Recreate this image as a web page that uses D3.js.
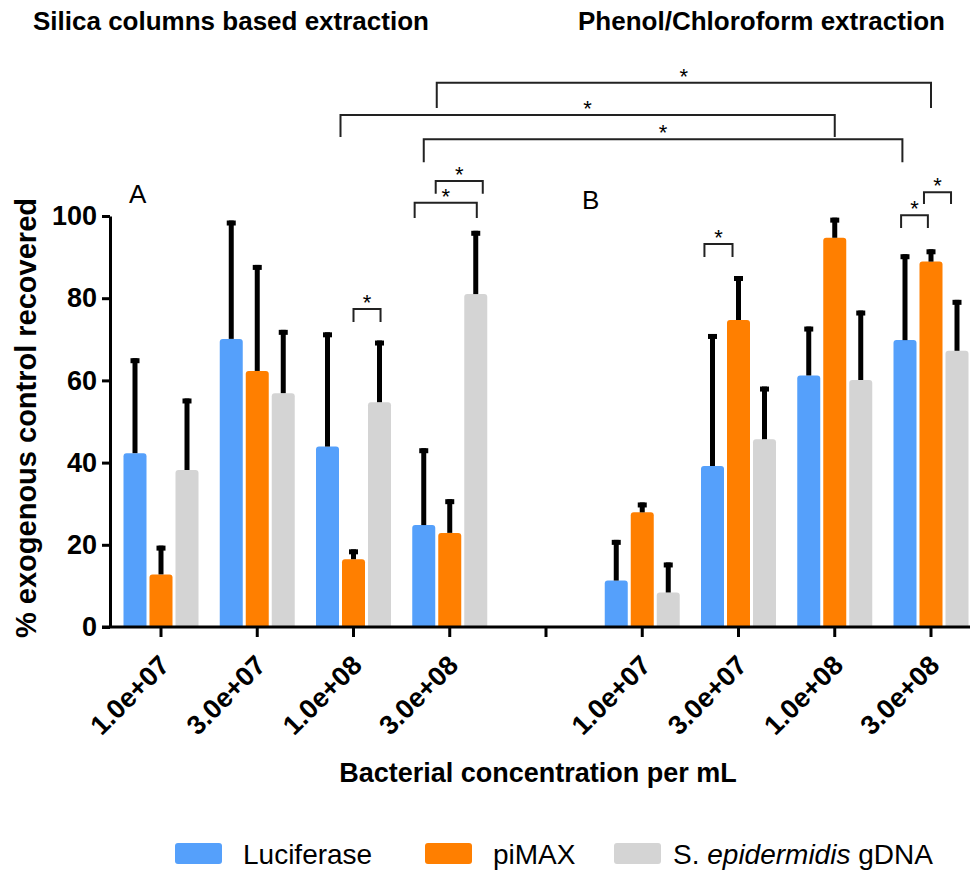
<!DOCTYPE html>
<html>
<head>
<meta charset="utf-8">
<script src="https://cdn.jsdelivr.net/npm/d3@7/dist/d3.min.js"></script>
<style>
  html, body { margin: 0; padding: 0; background: #fff; }
  svg { display: block; font-family: "Liberation Sans", Arial, sans-serif; }
</style>
</head>
<body>
<svg id="chart" width="970" height="872"></svg>
<script>
// ---------------- data ----------------
const categoryKeys = ["A-1e7", "A-3e7", "A-1e8", "A-3e8", "gap", "B-1e7", "B-3e7", "B-1e8", "B-3e8"];
const tickLabels   = ["1.0e+07", "3.0e+07", "1.0e+08", "3.0e+08", "", "1.0e+07", "3.0e+07", "1.0e+08", "3.0e+08"];
const seriesNames  = ["Luciferase", "piMAX", "S. epidermidis gDNA"];
const seriesColors = ["#55a0fb", "#ff7f00", "#d4d4d4"];

const luciferase    = [42.3, 70.1, 43.9, 24.8, null, 11.3, 39.2, 61.2, 69.8];
const luciferaseErr = [23.1, 28.8, 27.8, 18.7, null,  9.9, 32.1, 11.9, 20.9];
const pimax         = [12.8, 62.3, 16.5, 22.9, null, 27.9, 74.7, 94.7, 88.9];
const pimaxErr      = [ 7.0, 25.8,  2.4,  8.2, null,  2.4, 10.7,  4.9,  3.0];
const gdna          = [38.2, 56.9, 54.7, 81.0, null,  8.4, 45.7, 60.1, 67.2];
const gdnaErr       = [17.4, 15.4, 15.0, 15.4, null,  7.3, 12.8, 16.9, 12.4];

const yTicks = [0, 20, 40, 60, 80, 100];

// significance brackets: from category / offset (in bar steps), to category / offset, level and leg end (data units)
const brackets = [
  { from: "A-3e8", fromOff: -0.5,  to: "B-3e8", toOff: 0.0,   level: 132.4, leg: 126.3 },
  { from: "A-1e8", fromOff: -0.5,  to: "B-1e8", toOff: 0.0,   level: 124.6, leg: 119.2 },
  { from: "A-3e8", fromOff: -1.0,  to: "B-3e8", toOff: -1.1,  level: 118.7, leg: 113.1 },
  { from: "A-1e8", fromOff: 0.0,   to: "A-1e8", toOff: 1.04,  level: 77.4,  leg: 74.2 },
  { from: "A-3e8", fromOff: -1.35, to: "A-3e8", toOff: 1.04,  level: 103.2, leg: 99.5 },
  { from: "A-3e8", fromOff: -0.54, to: "A-3e8", toOff: 1.27,  level: 108.5, leg: 105.4 },
  { from: "B-3e7", fromOff: -1.31, to: "B-3e7", toOff: -0.23, level: 93.2,  leg: 90.0 },
  { from: "B-3e8", fromOff: -1.15, to: "B-3e8", toOff: -0.12, level: 100.2, leg: 97.1 },
  { from: "B-3e8", fromOff: -0.27, to: "B-3e8", toOff: 0.77,  level: 105.8, leg: 102.9 }
];

// ---------------- layout ----------------
const svg = d3.select("#chart");
const step = 96.25;
const firstCenter = 161;
const x = d3.scaleBand()
  .domain(categoryKeys)
  .range([firstCenter - step / 2, firstCenter - step / 2 + step * categoryKeys.length])
  .padding(0);
const xs = d3.scaleBand()
  .domain(seriesNames)
  .range([-39, 39])
  .paddingInner(3 / 26)
  .paddingOuter(1.5 / 26);
const y = d3.scaleLinear().domain([0, 100]).range([627, 216]);

const cx = k => x(k) + x.bandwidth() / 2;
const valuesBySeries = [luciferase, pimax, gdna];
const errBySeries = [luciferaseErr, pimaxErr, gdnaErr];

// ---------------- bars ----------------
function topRoundedRect(x0, y0, w, h, r) {
  r = Math.min(r, h, w / 2);
  return `M${x0},${y0 + h} V${y0 + r} Q${x0},${y0} ${x0 + r},${y0} H${x0 + w - r} Q${x0 + w},${y0} ${x0 + w},${y0 + r} V${y0 + h} Z`;
}

const barData = [];
categoryKeys.forEach((k, i) => {
  seriesNames.forEach((s, j) => {
    const v = valuesBySeries[j][i];
    if (v == null) return;
    barData.push({ k, s, j, v, e: errBySeries[j][i] });
  });
});

const gBars = svg.append("g");
gBars.selectAll("path.bar").data(barData).join("path")
  .attr("class", "bar")
  .attr("fill", d => seriesColors[d.j])
  .attr("d", d => topRoundedRect(cx(d.k) + xs(d.s), y(d.v), xs.bandwidth(), y(0) - y(d.v), 3));

// error bars (upper only)
const gErr = svg.append("g");
gErr.selectAll("line.err").data(barData).join("line")
  .attr("class", "err")
  .attr("x1", d => cx(d.k) + xs(d.s) + xs.bandwidth() / 2)
  .attr("x2", d => cx(d.k) + xs(d.s) + xs.bandwidth() / 2)
  .attr("y1", d => y(d.v))
  .attr("y2", d => y(d.v + d.e))
  .attr("stroke", "#000")
  .attr("stroke-width", 5);
gErr.selectAll("rect.cap").data(barData).join("rect")
  .attr("class", "cap")
  .attr("x", d => cx(d.k) + xs(d.s) + xs.bandwidth() / 2 - 4.5)
  .attr("y", d => y(d.v + d.e))
  .attr("width", 9)
  .attr("height", 5)
  .attr("fill", "#000");

// ---------------- axes ----------------
const yAxis = svg.append("g")
  .attr("transform", "translate(110,0)")
  .call(d3.axisLeft(y).tickValues(yTicks).tickSize(8).tickSizeOuter(0).tickPadding(5));
yAxis.select(".domain").attr("stroke", "#000").attr("stroke-width", 3);
yAxis.selectAll(".tick line").attr("stroke", "#000").attr("stroke-width", 3);
yAxis.selectAll(".tick text")
  .attr("fill", "#000")
  .style("font-size", "27px")
  .style("font-weight", "bold")
  .style("font-family", "'Liberation Sans', Arial, sans-serif");

const xAxis = svg.append("g")
  .attr("transform", `translate(0,${y(0)})`)
  .call(d3.axisBottom(x).tickSize(10).tickSizeOuter(0).tickFormat((d, i) => tickLabels[i]));
xAxis.select(".domain").remove();
xAxis.selectAll(".tick line").attr("stroke", "#000").attr("stroke-width", 3);
xAxis.selectAll(".tick text")
  .attr("fill", "#000")
  .style("font-size", "27px")
  .style("font-weight", "bold")
  .style("font-family", "'Liberation Sans', Arial, sans-serif")
  .attr("text-anchor", "end")
  .attr("dy", null)
  .attr("y", 0)
  .attr("transform", "translate(10,40) rotate(-45)");
xAxis.append("line")
  .attr("x1", 102).attr("x2", 970)
  .attr("y1", 0).attr("y2", 0)
  .attr("stroke", "#000").attr("stroke-width", 3);

// axis titles
svg.append("text")
  .attr("transform", "translate(36,418) rotate(-90)")
  .attr("text-anchor", "middle")
  .style("font-size", "29px")
  .style("font-weight", "bold")
  .text("% exogenous control recovered");

svg.append("text")
  .attr("x", 538).attr("y", 782)
  .attr("text-anchor", "middle")
  .style("font-size", "27px")
  .style("font-weight", "bold")
  .text("Bacterial concentration per mL");

// panel titles
svg.append("text")
  .attr("x", 33).attr("y", 30)
  .style("font-size", "26px")
  .style("font-weight", "bold")
  .text("Silica columns based extraction");
svg.append("text")
  .attr("x", 578).attr("y", 30)
  .style("font-size", "26px")
  .style("font-weight", "bold")
  .text("Phenol/Chloroform extraction");

// panel letters
svg.append("text").attr("x", 129).attr("y", 203).style("font-size", "26px").text("A");
svg.append("text").attr("x", 582).attr("y", 209).style("font-size", "26px").text("B");

// ---------------- significance brackets ----------------
const gBr = svg.append("g");
brackets.forEach(b => {
  const x1 = cx(b.from) + b.fromOff * xs.step();
  const x2 = cx(b.to) + b.toOff * xs.step();
  const yl = y(b.level), yb = y(b.leg);
  gBr.append("path")
    .attr("d", `M${x1},${yb} V${yl} H${x2} V${yb}`)
    .attr("fill", "none")
    .attr("stroke", "#222")
    .attr("stroke-width", 2);
  gBr.append("text")
    .attr("x", (x1 + x2) / 2)
    .attr("y", yl + 1)
    .attr("text-anchor", "middle")
    .style("font-size", "22px")
    .text("*");
});

// ---------------- legend ----------------
const legendPos = [{ sx: 175, tx: 243 }, { sx: 425, tx: 493 }, { sx: 614, tx: 673 }];
const gLeg = svg.append("g");
seriesNames.forEach((s, j) => {
  gLeg.append("rect")
    .attr("x", legendPos[j].sx).attr("y", 843)
    .attr("width", 47).attr("height", 21).attr("rx", 3)
    .attr("fill", seriesColors[j]);
  const t = gLeg.append("text")
    .attr("x", legendPos[j].tx).attr("y", 864)
    .style("font-size", "28px");
  if (j === 2) {
    t.append("tspan").text("S. ");
    t.append("tspan").style("font-style", "italic").text("epidermidis");
    t.append("tspan").text(" gDNA");
  } else {
    t.text(s);
  }
});
</script>
</body>
</html>
